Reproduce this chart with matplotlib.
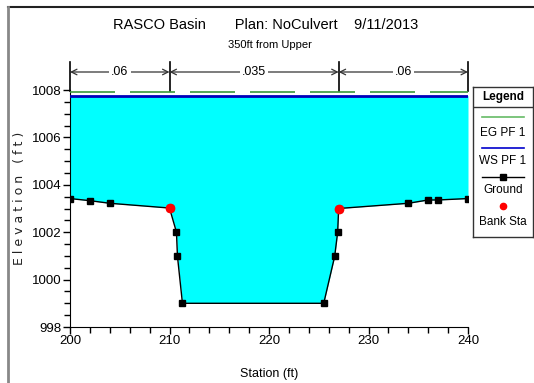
import matplotlib
matplotlib.use("Agg")
import matplotlib.pyplot as plt
from matplotlib import font_manager as fm
import matplotlib.transforms as mtransforms
from matplotlib.lines import Line2D

names = {f.name for f in fm.fontManager.ttflist}
FONT = "Liberation Sans Narrow" if "Liberation Sans Narrow" in names else "Liberation Sans"
plt.rcParams['font.family'] = [FONT, 'DejaVu Sans']

# ---- data ----
station = [200, 202, 204, 210, 210.7, 210.8, 211.3, 225.5, 226.6, 226.9, 227, 234, 236, 237, 240]
ground = [1003.42, 1003.33, 1003.22, 1003.02, 1002.0, 1000.98, 999.0, 999.0, 1000.98, 1002.0, 1003.0, 1003.22, 1003.36, 1003.36, 1003.42]
bank_sta = [210, 227]
bank_elev = [1003.02, 1003.0]
ws_elev = 1007.76
eg_elev = 1007.9
roughness_breaks = [200, 210, 227, 240]
roughness_vals = [".06", ".035", ".06"]
xticks = [200, 210, 220, 230, 240]
yticks = [998, 1000, 1002, 1004, 1006, 1008]

W, H = 534, 383
fig = plt.figure(figsize=(W / 100, H / 100), dpi=100)

# border
fig.add_artist(Line2D([8 / W, 1], [1 - 7 / H, 1 - 7 / H], color='#222222', lw=1.5, transform=fig.transFigure))
fig.add_artist(Line2D([8 / W, 8 / W], [0, 1 - 7 / H], color='#888888', lw=2, transform=fig.transFigure))

ax = fig.add_axes([70 / W, 1 - 327 / H, (468 - 70) / W, (327 - 90) / H])
ax.fill_between(station, ground, ws_elev, color='#00FFFF', lw=0, zorder=1)
ax.plot([station[0], station[-1]], [ws_elev, ws_elev], color='#0000BB', lw=2, zorder=3)
ax.plot([station[0], station[-1]], [eg_elev, eg_elev], color='#3A9A3A', lw=1.2,
        dashes=(27, 9), zorder=3)
ax.plot(station, ground, color='black', lw=1, marker='s', ms=4.5, zorder=4)
ax.plot(bank_sta, bank_elev, 'o', color='red', ms=6, zorder=5)

ax.set_xlim(200, 240)
ax.set_ylim(998, 1008)
ax.set_xticks(xticks)
ax.set_yticks(yticks)
ax.set_xticks(range(200, 241, 2), minor=True)
ax.set_yticks([998 + 0.5 * i for i in range(21)], minor=True)
for s in ['top', 'right']:
    ax.spines[s].set_visible(False)
ax.tick_params(axis='both', which='major', labelsize=9.5, length=5, width=1, pad=1)
ax.tick_params(axis='both', which='minor', length=4, width=1)
ax.set_xlabel("Station (ft)", fontsize=9, labelpad=15)
fig.text(20 / W, 1 - 198 / H, "E l e v a t i o n   ( f t )", rotation=90, fontsize=9,
         ha='center', va='center', family=['DejaVu Sans'], color='#222222')

# roughness brackets
trans = mtransforms.blended_transform_factory(ax.transData, ax.transAxes)
yb = (327 - 72) / (327 - 90)
for xs in roughness_breaks:
    ax.plot([xs, xs], [0.995, 1.12], color='black', lw=1.2, transform=trans, clip_on=False)
for i, lab in enumerate(roughness_vals):
    x0, x1 = roughness_breaks[i], roughness_breaks[i + 1]
    ax.annotate("", xy=(x0, yb), xytext=((x0 + x1) / 2, yb), xycoords=trans, textcoords=trans,
                arrowprops=dict(arrowstyle='->', color='#333333', lw=0.9, shrinkA=0, shrinkB=0))
    ax.annotate("", xy=(x1, yb), xytext=((x0 + x1) / 2, yb), xycoords=trans, textcoords=trans,
                arrowprops=dict(arrowstyle='->', color='#333333', lw=0.9, shrinkA=0, shrinkB=0))
    ax.text((x0 + x1) / 2, yb, lab, transform=trans, ha='center', va='center', fontsize=9,
            bbox=dict(facecolor='white', edgecolor='none', pad=1.5))

# titles
fig.text(266 / W, 1 - 25 / H, "RASCO Basin       Plan: NoCulvert    9/11/2013", ha='center', va='center', fontsize=10.5)
fig.text(270 / W, 1 - 45 / H, "350ft from Upper", ha='center', va='center', fontsize=8)

# legend
lax = fig.add_axes([473 / W, 1 - 237 / H, (533 - 473) / W, (237 - 87) / H])
lax.set_xlim(0, 1)
lax.set_ylim(237, 87)
lax.set_xticks([])
lax.set_yticks([])
for s in lax.spines.values():
    s.set_linewidth(1)
    s.set_color('#333333')
lax.axhline(107, color='#333333', lw=1)
lax.text(0.5, 97, "Legend", ha='center', va='center', fontsize=8.5, weight='bold')
lax.plot([0.15, 0.85], [117, 117], color='#66BB66', lw=1.2)
lax.text(0.5, 133, "EG PF 1", ha='center', va='center', fontsize=8.5)
lax.plot([0.15, 0.85], [148, 148], color='#0000CC', lw=1.2)
lax.text(0.5, 161, "WS PF 1", ha='center', va='center', fontsize=8.5)
lax.plot([0.15, 0.85], [177, 177], color='black', lw=1)
lax.plot([0.5], [177], 's', color='black', ms=4)
lax.text(0.5, 190, "Ground", ha='center', va='center', fontsize=8.5)
lax.plot([0.5], [206], 'o', color='red', ms=4.5)
lax.text(0.5, 222, "Bank Sta", ha='center', va='center', fontsize=8.5)

fig.savefig("out.png", dpi=100)
